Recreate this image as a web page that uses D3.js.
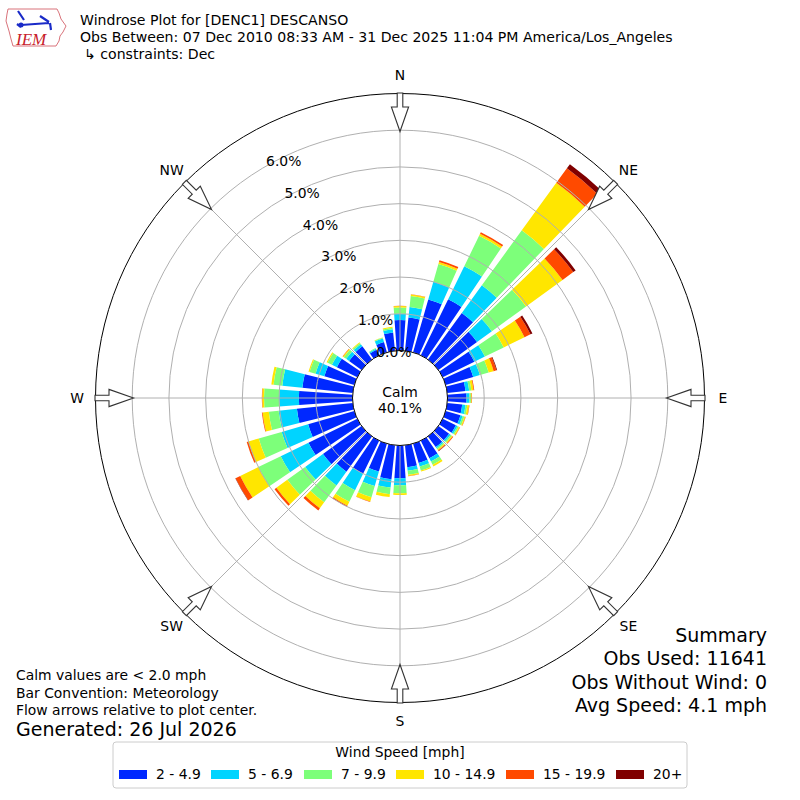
<!DOCTYPE html>
<html>
<head>
<meta charset="utf-8">
<script src="https://cdn.jsdelivr.net/npm/d3@7"></script>
<style>
body { margin:0; background:#fff; }
text { font-family:"DejaVu Sans", sans-serif; fill:#000; }
</style>
</head>
<body>
<div id="a"></div>
<script>
// wind direction bins (degrees, meteorological)
var directions = [0,10,20,30,40,50,60,70,80,90,100,110,120,130,140,150,160,170,
                  180,190,200,210,220,230,240,250,260,270,280,290,300,310,320,330,340,350];

// percent of obs per speed bin, one value per direction
var spd2to5   = [0.83,0.91,1.50,1.70,1.57,1.30,0.96,0.78,0.50,0.52,0.41,0.42,0.40,0.36,0.36,0.53,0.55,0.60,
                 0.89,0.93,0.79,1.00,1.19,1.30,1.48,1.31,1.53,1.46,1.38,0.85,0.62,0.42,0.45,0.17,0.29,0.50];
var spd5to7   = [0.17,0.29,0.50,1.00,0.93,0.50,0.32,0.19,0.10,0.08,0.09,0.06,0.05,0.05,0.04,0.10,0.10,0.10,
                 0.19,0.23,0.41,0.50,0.46,0.60,0.84,0.75,0.50,0.54,0.55,0.25,0.15,0.10,0.07,0.03,0.10,0.09];
var spd7to10  = [0.17,0.30,0.50,0.92,1.85,1.15,0.57,0.25,0.06,0.04,0.05,0.05,0.04,0.04,0.04,0.10,0.11,0.11,
                 0.22,0.18,0.32,0.35,0.57,0.60,0.68,0.65,0.27,0.41,0.24,0.17,0.13,0.08,0.04,0.02,0.02,0.04];
var spd10to15 = [0.04,0.04,0.06,0.06,1.60,1.23,0.63,0.14,0.06,0.02,0.05,0.03,0.03,0.03,0.03,0.05,0.03,0.03,
                 0.05,0.08,0.12,0.12,0.20,0.37,0.55,0.29,0.17,0.05,0.06,0.03,0.03,0.03,0.02,0.00,0.01,0.03];
var spd15to20 = [0.01,0.01,0.05,0.05,0.49,0.36,0.18,0.08,0.02,0.01,0.01,0.01,0.01,0.02,0.02,0.00,0.00,0.01,
                 0.00,0.00,0.01,0.03,0.07,0.06,0.14,0.05,0.02,0.01,0.00,0.00,0.00,0.01,0.00,0.00,0.00,0.00];
var spd20plus = [0.00,0.00,0.00,0.00,0.14,0.08,0.06,0.02,0.00,0.00,0.00,0.00,0.00,0.00,0.01,0.00,0.00,0.00,
                 0.00,0.00,0.00,0.00,0.00,0.00,0.01,0.00,0.00,0.00,0.00,0.00,0.00,0.00,0.00,0.00,0.00,0.00];

var speedLabels = ["2 - 4.9","5 - 6.9","7 - 9.9","10 - 14.9","15 - 19.9","20+"];
var speedColors = ["#0028ff","#00d4ff","#7dff7a","#ffe600","#ff4a00","#800000"];
var ringTicks   = [0,1,2,3,4,5,6];
var compassLabels = ["N","NE","E","SE","S","SW","W","NW"];
var compassAngles = [0,45,90,135,180,225,270,315];
var calmPct = 40.1;

var titleLines = ["Windrose Plot for [DENC1] DESCANSO",
                  "Obs Between: 07 Dec 2010 08:33 AM - 31 Dec 2025 11:04 PM America/Los_Angeles",
                  "\u21b3 constraints: Dec"];
var noteLines = ["Calm values are < 2.0 mph","Bar Convention: Meteorology","Flow arrows relative to plot center."];
var generated = "Generated: 26 Jul 2026";
var summaryLines = ["Summary","Obs Used: 11641","Obs Without Wind: 0","Avg Speed: 4.1 mph"];

var w = 800, h = 800, cx = 400, cy = 398,
    rad = Math.PI/180,
    halfWidth = 4; // bar half width in degrees

var svg = d3.select("#a").append("svg")
	.attr("width", w)
	.attr("height", h);

var r = d3.scaleLinear().domain([0,7]).range([47.5,304.5]);

var keys = ["b0","b1","b2","b3","b4","b5"];
var series = [spd2to5,spd5to7,spd7to10,spd10to15,spd15to20,spd20plus];
var rows = directions.map(function(d,i){
	var o = {dir:d};
	keys.forEach(function(k,j){ o[k] = series[j][i]; });
	return o;
});
var stacked = d3.stack().keys(keys)(rows);

var arc = d3.arc()
	.innerRadius(function(d){ return r(d[0]); })
	.outerRadius(function(d){ return r(d[1]); })
	.startAngle(function(d){ return (d.data.dir-halfWidth)*rad; })
	.endAngle(function(d){ return (d.data.dir+halfWidth)*rad; });

var g = svg.append("g").attr("transform","translate("+cx+","+cy+")");

// bars
g.selectAll(".layer")
	.data(stacked)
	.enter().append("g")
	.attr("class","layer")
	.attr("fill",function(d,i){ return speedColors[i]; })
	.selectAll("path")
	.data(function(d){ return d.filter(function(s){ return s[1]-s[0] > 0; }); })
	.enter().append("path")
	.attr("d",arc);

// grid, drawn over the bars
g.selectAll(".ring")
	.data(ringTicks.slice(1))
	.enter().append("circle")
	.attr("r",function(d){ return r(d); })
	.attr("fill","none")
	.attr("stroke","#b0b0b0")
	.attr("stroke-width",1);

g.selectAll(".spoke")
	.data(compassAngles)
	.enter().append("line")
	.attr("x1",function(d){ return r(0)*Math.sin(d*rad); })
	.attr("y1",function(d){ return -r(0)*Math.cos(d*rad); })
	.attr("x2",function(d){ return r(7)*Math.sin(d*rad); })
	.attr("y2",function(d){ return -r(7)*Math.cos(d*rad); })
	.attr("stroke","#b0b0b0")
	.attr("stroke-width",1);

// calm circle
g.append("circle")
	.attr("r",r(0))
	.attr("fill","#fff")
	.attr("stroke","#000")
	.attr("stroke-width",1);
g.append("text").attr("text-anchor","middle").attr("y",-1).style("font-size","13.9px").text("Calm");
g.append("text").attr("text-anchor","middle").attr("y",15).style("font-size","13.9px").text(calmPct.toFixed(1)+"%");

// outer frame
g.append("circle")
	.attr("r",r(7))
	.attr("fill","none")
	.attr("stroke","#000")
	.attr("stroke-width",1);

// ring labels along 330 deg
g.selectAll(".rlab")
	.data(ringTicks)
	.enter().append("text")
	.attr("x",function(d){ return r(d)*Math.sin(-30*rad); })
	.attr("y",function(d){ return -r(d)*Math.cos(-30*rad); })
	.style("font-size","13.9px")
	.text(function(d){ return d.toFixed(1)+"%"; });

// flow arrows
var tail = r(7)+0.5, neck = r(7)-13.5, tip = r(7)-38, sw = 2.8, hw = 8.6;
g.selectAll(".arrow")
	.data(compassAngles)
	.enter().append("path")
	.attr("transform",function(d){ return "rotate("+d+")"; })
	.attr("d",function(){
		var p = d3.path();
		p.moveTo(-sw,-tail); p.lineTo(sw,-tail); p.lineTo(sw,-neck); p.lineTo(hw,-neck);
		p.lineTo(0,-tip); p.lineTo(-hw,-neck); p.lineTo(-sw,-neck); p.closePath();
		return p.toString();
	})
	.attr("fill","#fff")
	.attr("stroke","#333")
	.attr("stroke-width",1.1);

// compass labels
g.selectAll(".clab")
	.data(compassLabels)
	.enter().append("text")
	.attr("text-anchor","middle")
	.attr("dominant-baseline","central")
	.attr("x",function(d,i){ return 323*Math.sin(compassAngles[i]*rad); })
	.attr("y",function(d,i){ return -323*Math.cos(compassAngles[i]*rad); })
	.style("font-size","13.9px")
	.text(function(d){ return d; });

// header
svg.selectAll(".title")
	.data(titleLines)
	.enter().append("text")
	.attr("x",function(d,i){ return i==2 ? 84 : 80; })
	.attr("y",function(d,i){ return 25+i*17; })
	.style("font-size","14.1px")
	.text(function(d){ return d; });

// IEM logo (rough)
var logo = svg.append("g");
logo.append("path")
	.attr("d","M8,9 L57,9 L59,13 L61,19 L66,26 L63,32 L60,36 L59,41 L56,46 L13,46 L11,39 L9,31 L6,21 L7,14 Z")
	.attr("fill","none").attr("stroke","#d9737b").attr("stroke-width",1);
logo.append("path")
	.attr("d","M21,25 L49,23 M18,11 L24,20 M40,16 L49,22 M50,23 L51,30 M17,24 L21,27")
	.attr("fill","none").attr("stroke","#1a2bc8").attr("stroke-width",2.2);
logo.append("circle").attr("cx",21).attr("cy",25).attr("r",2.5).attr("fill","#1a2bc8");
logo.append("text").attr("x",16).attr("y",45)
	.style("font-family","'Liberation Serif', serif").style("font-style","italic")
	.style("font-size","17px").style("fill","#c8202a").text("IEM");

// notes bottom left
svg.selectAll(".note")
	.data(noteLines)
	.enter().append("text")
	.attr("x",16)
	.attr("y",function(d,i){ return 680+i*17.5; })
	.style("font-size","13.9px")
	.text(function(d){ return d; });
svg.append("text").attr("x",16).attr("y",736).style("font-size","19px").text(generated);

// summary bottom right
svg.selectAll(".summ")
	.data(summaryLines)
	.enter().append("text")
	.attr("x",767)
	.attr("text-anchor","end")
	.attr("y",function(d,i){ return 642+i*23.3; })
	.style("font-size","19px")
	.text(function(d){ return d; });

// legend
var leg = svg.append("g");
leg.append("rect")
	.attr("x",113).attr("y",742).attr("width",574).attr("height",46)
	.attr("rx",3).attr("fill","#fff").attr("stroke","#ccc");
leg.append("text").attr("x",400).attr("y",757).attr("text-anchor","middle")
	.style("font-size","13.9px").text("Wind Speed [mph]");
var legX = [119,211,304,396,506,616];
var item = leg.selectAll(".item")
	.data(speedLabels)
	.enter().append("g")
	.attr("transform",function(d,i){ return "translate("+legX[i]+",0)"; });
item.append("rect")
	.attr("y",770).attr("width",28).attr("height",9)
	.attr("fill",function(d,i){ return speedColors[i]; });
item.append("text")
	.attr("x",37).attr("y",779)
	.style("font-size","13.9px")
	.text(function(d){ return d; });
</script>
</body>
</html>
